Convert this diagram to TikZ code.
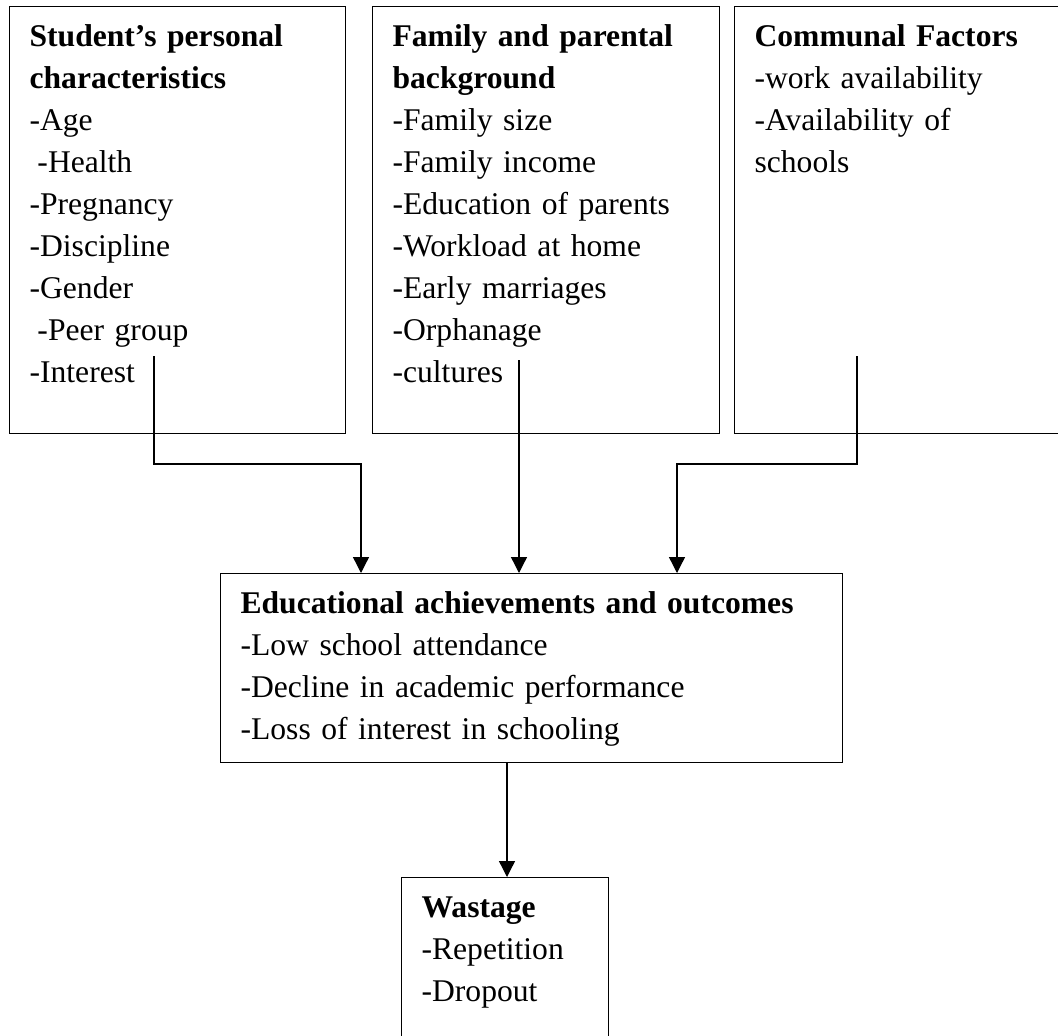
\documentclass[tikz,border=0pt]{standalone}
\usepackage{fontspec}
\setmainfont{Liberation Serif}
\usetikzlibrary{arrows.meta,calc}

\newcommand{\shiftin}{\hspace*{.25em}}

\tikzset{
  factor/.style={draw, line width=0.45pt, anchor=north west, align=left,
    inner xsep=7.5pt, inner ysep=0pt, text height=15pt,
    font=\fontsize{11.85}{15.75}\selectfont},
  flow/.style={line width=0.5pt, -{Triangle[length=6pt,width=6pt]}}
}

\begin{document}
\begin{tikzpicture}[x=0.375pt,y=-0.375pt]
            \useasboundingbox (0,0) rectangle (1058,1036);
            % factor boxes
            \node[factor, text width=111pt, text depth=145.1pt] (student) at (9,6)
                {\textbf{Student’s personal}\\ \textbf{characteristics}\\ -Age\\
                \shiftin-Health\\ -Pregnancy\\ -Discipline\\ -Gender\\
                \shiftin-Peer group\\ -Interest};
            \node[factor, text width=115.1pt, text depth=145.1pt] (family) at (372,6)
                {\textbf{Family and parental}\\ \textbf{background}\\ -Family size\\
                -Family income\\ -Education of parents\\ -Workload at home\\
                -Early marriages\\ -Orphanage\\ -cultures};
            \node[factor, text width=111pt, text depth=145.1pt] (communal) at (734,6)
                {\textbf{Communal Factors}\\ -work availability\\ -Availability of\\ schools};
            % outcomes
            \node[factor, text width=218.25pt, text depth=55.9pt] (outcomes) at (220,573)
                {\textbf{Educational achievements and outcomes}\\ -Low school attendance\\
                -Decline in academic performance\\ -Loss of interest in schooling};
            \node[factor, text width=62.6pt, text depth=60pt] (wastage) at (401,877)
                {\textbf{Wastage}\\ -Repetition\\ -Dropout};
            % connectors
            \coordinate (studentend) at (154,356);
            \coordinate (familyend) at (519,360);
            \coordinate (communalend) at (857,356);
            \coordinate (wastagein) at ($(wastage.north west)+(106,0)$);
            \draw[flow] (studentend) -- ++(0,108) -| ($(outcomes.north west)+(141,0)$);
            \draw[flow] (familyend) -- (familyend |- outcomes.north);
            \draw[flow] (communalend) -- ++(0,108) -| ($(outcomes.north west)+(457,0)$);
            \draw[flow] (wastagein |- outcomes.south) -- (wastagein);
\end{tikzpicture}
\end{document}
